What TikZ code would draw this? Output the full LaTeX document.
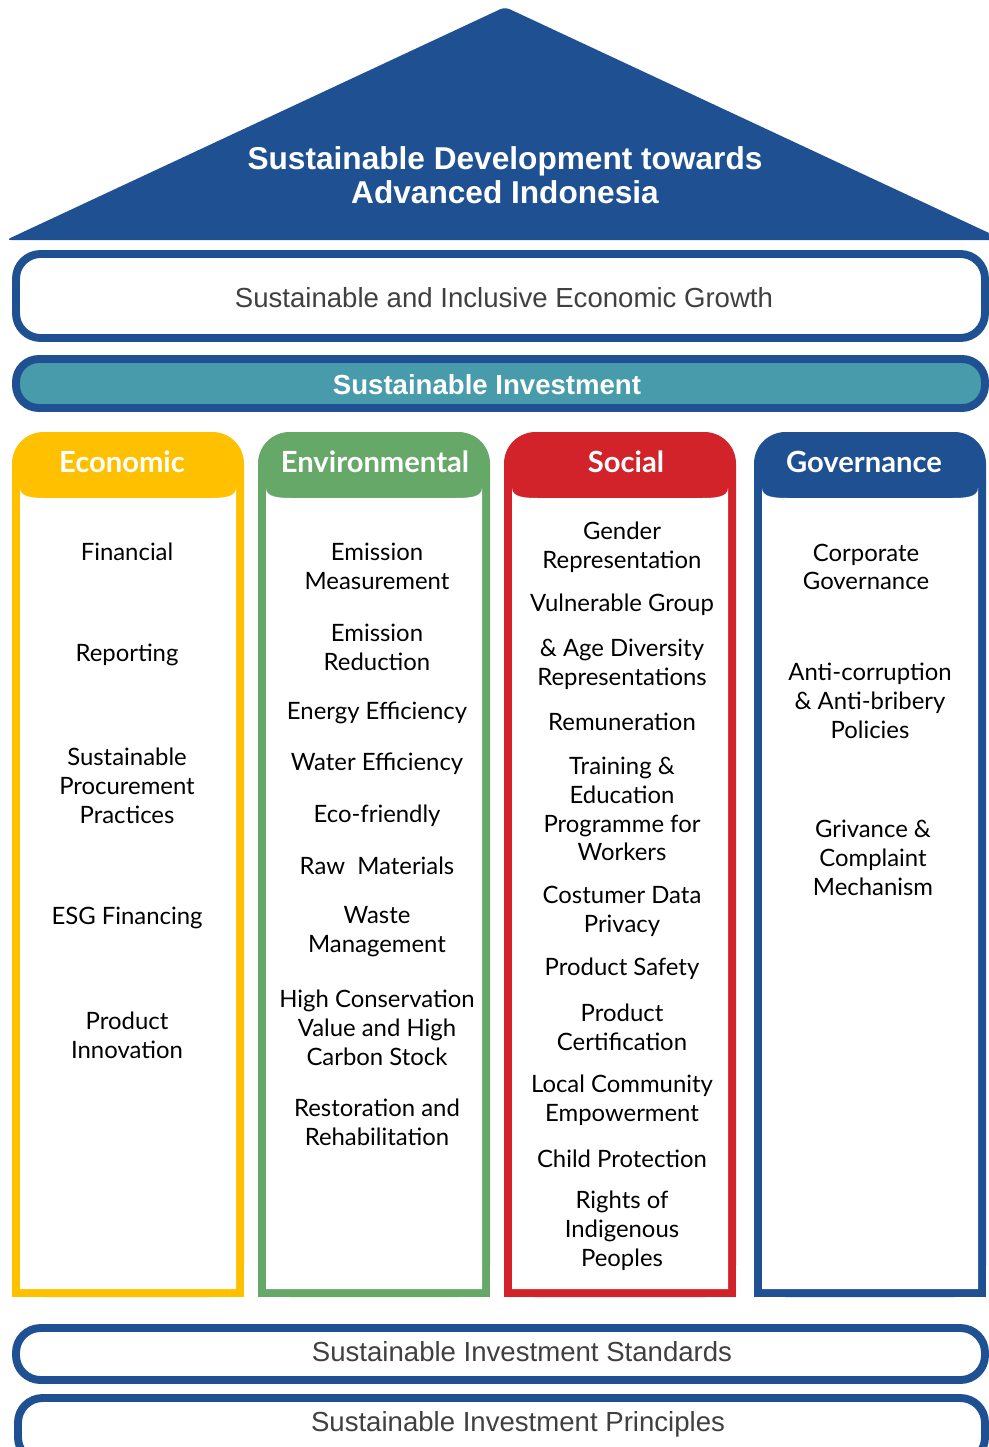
\documentclass[tikz,border=0pt]{standalone}
\usepackage{fontspec}
\setmainfont{Lato}
\newfontfamily\arialfont{Liberation Sans}
\usepackage{tikz}

\definecolor{roofblue}{HTML}{1F5092}
\definecolor{investteal}{HTML}{479BAA}
\definecolor{ecoyellow}{HTML}{FFC000}
\definecolor{envgreen}{HTML}{66A867}
\definecolor{socred}{HTML}{D2232A}
\definecolor{bandgray}{HTML}{404040}

\tikzset{
  band/.style={draw=roofblue, line width=4.5pt, rounded corners=14pt},
  bandtext/.style={text=bandgray, font=\arialfont\fontsize{15.7}{18}\selectfont},
  rooftext/.style={text=white, align=center, font=\arialfont\bfseries\fontsize{18}{19.3}\selectfont},
  headtext/.style={text=white, font=\bfseries\fontsize{16.6}{19}\selectfont},
  item/.style={align=center, text=black, font=\fontsize{13.6}{16.4}\selectfont},
}

\begin{document}
\begin{tikzpicture}[x=0.02cm, y=-0.02cm]
\useasboundingbox (0,0) rectangle (989,1447);
\clip (0,0) rectangle (989,1447);

% roof
\fill[roofblue, rounded corners=3pt] (6,240) -- (505,7) -- (1004,240) -- cycle;
\node[rooftext] (goal) at (505,175) {Sustainable Development towards\\Advanced Indonesia};

% upper bands
\draw[band, fill=white] (16,254) rectangle (985,338);
\node[bandtext] (growth) at (504,298) {Sustainable and Inclusive Economic Growth};
\draw[band, fill=investteal, rounded corners=13pt] (16,359) rectangle (985,408);
\node[bandtext, text=white, font=\arialfont\bfseries\fontsize{15.7}{18}\selectfont] (invest) at (487,385) {Sustainable Investment};

% pillars
\foreach \x/\col/\head/\hx/\i in {12/ecoyellow/Economic/122/1, 258/envgreen/Environmental/375/2,
                                  504/socred/Social/626/3, 754/roofblue/Governance/864/4} {
\fill[\col, rounded corners=18pt] (\x,432) rectangle (\x+232,1297);
\fill[\col] (\x,1200) rectangle (\x+232,1297);
\fill[white] (\x+8,1289) -- (\x+8,488) .. controls (\x+8,497) and (\x+20,498) .. (\x+34,498)
  -- (\x+198,498) .. controls (\x+212,498) and (\x+224,497) .. (\x+224,488) -- (\x+224,1289) -- cycle;
\node[headtext] (head\i) at (\hx,462) {\head};
}

% pillar items
\foreach \y/\t [count=\n] in {552/Financial, 655/Reporting, 786/{Sustainable\\Procurement\\Practices},
                              918/ESG Financing, 1035/{Product\\Innovation}}
  \node[item] (eco\n) at (127,\y) {\t};

\foreach \y/\t [count=\n] in {566/{Emission\\Measurement}, 647/{Emission\\Reduction}, 713/Energy Efficiency,
                              764/Water Efficiency, 816/Eco-friendly, 866/Raw\ \ Materials,
                              932/{Waste\\Management}, 1028/{High Conservation\\Value and High\\Carbon Stock},
                              1122/{Restoration and\\Rehabilitation}}
  \node[item] (env\n) at (377,\y) {\t};

\foreach \y/\t [count=\n] in {547/{Gender\\Representation}, 605/Vulnerable Group,
                              664/{\& Age Diversity\\Representations}, 722/Remuneration,
                              809/{Training \&\\Education\\Programme for\\Workers}, 911/{Costumer Data\\Privacy},
                              969/Product Safety, 1027/{Product\\Certification},
                              1100/{Local Community\\Empowerment}, 1159/Child Protection,
                              1231/{Rights of\\Indigenous\\Peoples}}
  \node[item] (soc\n) at (622,\y) {\t};

\node[item] (gov1) at (866,567) {Corporate\\Governance};
\node[item] (gov2) at (870,701) {Anti-corruption\\\& Anti-bribery\\Policies};
\node[item] (gov3) at (873,858) {Grivance \&\\Complaint\\Mechanism};

% lower bands
\draw[band, fill=white] (16,1328) rectangle (985,1380);
\node[bandtext] (standards) at (522,1352) {Sustainable Investment Standards};
\draw[band, fill=white] (18,1398) rectangle (985,1462);
\node[bandtext] (principles) at (518,1424) {Sustainable Investment Principles};

\end{tikzpicture}
\end{document}
